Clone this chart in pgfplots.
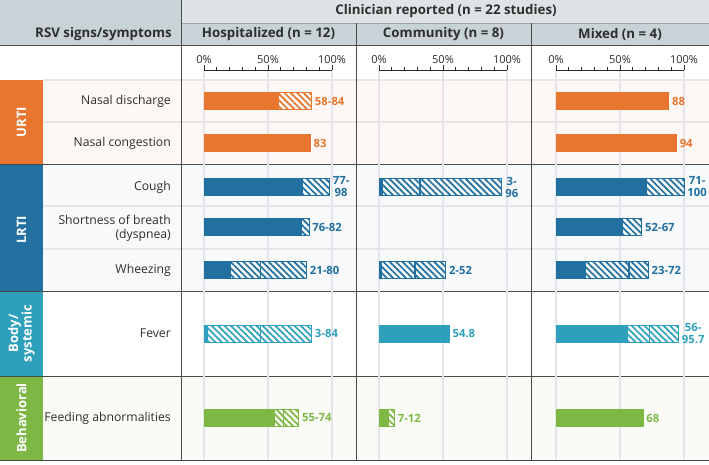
\documentclass[border=0pt]{standalone}
\usepackage{fontspec}
\setmainfont{Open Sans}
\usepackage{pgfplots}
\pgfplotsset{compat=1.18}
\usetikzlibrary{patterns.meta}
\definecolor{cO}{HTML}{E8762F}
\definecolor{cB}{HTML}{21709F}
\definecolor{cT}{HTML}{2FA0BB}
\definecolor{cG}{HTML}{7CB843}
\definecolor{hdrA}{HTML}{DEE4E6}
\definecolor{hdrB}{HTML}{C9D2D6}
\definecolor{hdrL}{HTML}{9AA4A9}
\definecolor{tO}{HTML}{FDF7F5}
\definecolor{tB}{HTML}{F7F9FA}
\definecolor{tG}{HTML}{FAFAF7}
\definecolor{gridc}{HTML}{E4E5EB}
\definecolor{rowl}{HTML}{E6E6E6}
\definecolor{darkl}{HTML}{4A4A4A}
\definecolor{txt}{HTML}{2E2E2E}

\pgfplotsset{
 colaxis/.style={
  x=1.28pt, y=1pt, y dir=reverse,
  xmin=0, xmax=100, ymin=70, ymax=460,
  enlargelimits=false, clip=false,
  axis x line*=top, hide y axis,
  x axis line style={-, draw=txt, line width=1pt},
  xtick={0,50,100}, xticklabels={0\%,50\%,100\%},
  minor xtick={10,20,30,40,60,70,80,90},
  tick align=outside, major tick length=5pt, minor tick length=3pt,
  every tick/.style={draw=txt, line width=0.8pt},
  xticklabel style={font=\fontsize{11}{12}\selectfont, text=txt, inner sep=1pt},
  xmajorgrids, major grid style={draw=gridc, line width=1.2pt},
  anchor=north west,
  bar shift=0pt, bar width=17,
 },
 hat/.style={xbar, draw=#1, line width=0.9pt,
   pattern={Lines[angle=-45,distance=4.5pt,line width=1.7pt]}, pattern color=#1,
   nodes near coords style={text=#1, anchor=west, inner sep=3pt, font=\fontsize{11.3}{12}\selectfont\bfseries, align=center}},
 sol/.style={xbar, draw=#1, line width=0.9pt, fill=#1,
   nodes near coords style={text=#1, anchor=west, inner sep=3pt, font=\fontsize{11.3}{12}\selectfont\bfseries, align=center}},
 med/.style={draw=#1, line width=1.6pt, mark=none},
}

\begin{document}
\begin{tikzpicture}
\useasboundingbox (0pt,0pt) rectangle (709pt,-464pt);
\begin{scope}[x=1pt,y=-1pt]
% backgrounds
\fill[hdrB] (0,0) rectangle (181,45);
\fill[hdrA] (181,0) rectangle (709,23);
\fill[hdrB] (181,23) rectangle (709,45);
\fill[white] (0,45) rectangle (709,80);
\fill[tO] (43,80) rectangle (709,164);
\fill[tB] (43,164) rectangle (709,291);
\fill[white] (43,291) rectangle (709,376);
\fill[tG] (43,376) rectangle (709,460);
\fill[cO] (0,80) rectangle (43,164);
\fill[cB] (0,164) rectangle (43,291);
\fill[cT] (0,291) rectangle (43,376);
\fill[cG] (0,376) rectangle (43,460);
% row lines
\draw[rowl, line width=1.2pt] (43,80)--(709,80) (43,122)--(709,122) (43,206)--(709,206) (43,249)--(709,249);
\draw[hdrL, line width=0.8pt] (181,23)--(709,23);
\draw[darkl, line width=1pt] (0,45)--(709,45) (0,164)--(709,164) (0,291)--(709,291) (0,376)--(709,376);
\draw[darkl, line width=1.8pt] (0,460.5)--(709,460.5);
\draw[darkl, line width=1pt] (181,0)--(181,460) (356,23)--(356,460) (531,23)--(531,460);
% header text
\begin{scope}[every node/.style={font=\fontsize{13.3}{14}\selectfont\bfseries, text=txt, inner sep=0pt}]
\node[anchor=east] at (172,34) {RSV signs/symptoms};
\node at (446,11.5) {Clinician reported (n = 22 studies)};
\node at (268.5,34) {Hospitalized (n = 12)};
\node at (443.5,34) {Community (n = 8)};
\node at (620,34) {Mixed (n = 4)};
\end{scope}
% row labels
\begin{scope}[every node/.style={font=\fontsize{12.2}{14}\selectfont, text=txt, inner sep=0pt, anchor=east, align=right}]
\node at (171,101) {Nasal discharge};
\node at (171,143) {Nasal congestion};
\node at (171,187) {Cough};
\node at (171,228) {Shortness of breath\\(dyspnea)};
\node at (171,270) {Wheezing};
\node at (171,333.5) {Fever};
\node at (171,418) {Feeding abnormalities};
\end{scope}
% group labels
\begin{scope}[every node/.style={font=\fontsize{13}{13.5}\selectfont\bfseries, text=white, inner sep=0pt, rotate=90, align=center}]
\node at (21.5,122) {URTI};
\node at (21.5,230) {LRTI};
\node at (21.5,333.5) {Body/\\systemic};
\node at (21.5,418) {Behavioral};
\end{scope}
\end{scope}

% Hospitalized
\begin{axis}[colaxis, at={(204pt,-70pt)}]
\addplot[hat=cO, nodes near coords={58-84}] coordinates {(84,101)};
\addplot[sol=cO] coordinates {(58,101)};
\addplot[sol=cO, nodes near coords={83}] coordinates {(83,143)};
\addplot[hat=cB, nodes near coords={77-\\98}] coordinates {(98,187)};
\addplot[sol=cB] coordinates {(77,187)};
\addplot[hat=cB, nodes near coords={76-82}] coordinates {(82,227)};
\addplot[sol=cB] coordinates {(76,227)};
\addplot[hat=cB, nodes near coords={21-80}] coordinates {(80,270)};
\addplot[sol=cB] coordinates {(21,270)};
\addplot[med=cB] coordinates {(44,261.5) (44,278.5)};
\addplot[hat=cT, nodes near coords={3-84}] coordinates {(84,333.5)};
\addplot[sol=cT] coordinates {(3,333.5)};
\addplot[med=cT] coordinates {(44,325) (44,342)};
\addplot[hat=cG, nodes near coords={55-74}] coordinates {(74,418)};
\addplot[sol=cG] coordinates {(55,418)};
\addplot[med=cG] coordinates {(62,409.5) (62,426.5)};
\end{axis}

% Community
\begin{axis}[colaxis, at={(379pt,-70pt)}]
\addplot[hat=cB, nodes near coords={3-\\96}] coordinates {(96,187)};
\addplot[sol=cB] coordinates {(3,187)};
\addplot[med=cB] coordinates {(32,178.5) (32,195.5)};
\addplot[hat=cB, nodes near coords={2-52}] coordinates {(52,270)};
\addplot[sol=cB] coordinates {(2,270)};
\addplot[med=cB] coordinates {(28,261.5) (28,278.5)};
\addplot[sol=cT, nodes near coords={54.8}] coordinates {(54.8,333.5)};
\addplot[hat=cG, nodes near coords={7-12}] coordinates {(12,418)};
\addplot[sol=cG] coordinates {(7,418)};
\end{axis}

% Mixed
\begin{axis}[colaxis, at={(556pt,-70pt)}]
\addplot[sol=cO, nodes near coords={88}] coordinates {(88,101)};
\addplot[sol=cO, nodes near coords={94}] coordinates {(94,143)};
\addplot[hat=cB, nodes near coords={71-\\100}] coordinates {(100,187)};
\addplot[sol=cB] coordinates {(71,187)};
\addplot[hat=cB, nodes near coords={52-67}] coordinates {(67,227)};
\addplot[sol=cB] coordinates {(52,227)};
\addplot[hat=cB, nodes near coords={23-72}] coordinates {(72,270)};
\addplot[sol=cB] coordinates {(23,270)};
\addplot[med=cB] coordinates {(57,261.5) (57,278.5)};
\addplot[hat=cT, nodes near coords={56-\\95.7}] coordinates {(95.7,333.5)};
\addplot[sol=cT] coordinates {(56,333.5)};
\addplot[med=cT] coordinates {(73,325) (73,342)};
\addplot[sol=cG, nodes near coords={68}] coordinates {(68,418)};
\end{axis}
\end{tikzpicture}
\end{document}
